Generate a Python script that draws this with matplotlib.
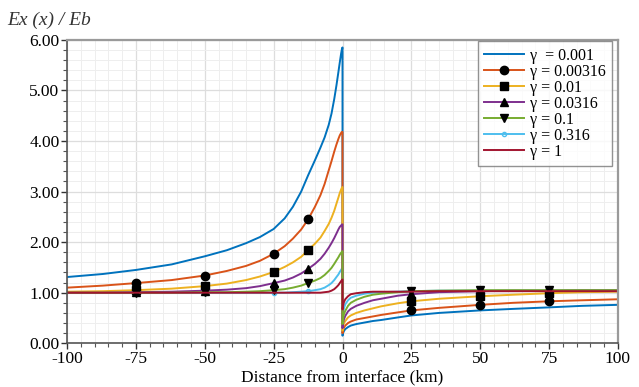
import matplotlib
matplotlib.use("Agg")
import matplotlib.pyplot as plt
from matplotlib.ticker import MultipleLocator, FormatStrFormatter

plt.rcParams['font.family'] = ['Liberation Serif', 'DejaVu Serif']
plt.rcParams['axes.unicode_minus'] = False

# distance from interface (km); 0 appears twice for the jump at the interface
x_left = [-100, -87, -75, -62, -50, -42, -35, -30, -25, -21, -18, -15, -12.5,
          -10, -8, -6.5, -5, -4, -3, -2.2, -1.5, -1, -0.5, -0.2, 0]
x_right = [0, 0.2, 0.5, 1, 2, 3, 5, 8, 11, 14, 20, 25, 35, 50, 62, 75, 87, 100]
x_all = x_left + x_right

labels = ["\u03b3  = 0.001", "\u03b3 = 0.00316", "\u03b3 = 0.01", "\u03b3 = 0.0316",
          "\u03b3 = 0.1", "\u03b3 = 0.316", "\u03b3 = 1"]

# Ex(x)/Eb: left side of interface, then right side
g0001_l = [1.31, 1.37, 1.45, 1.56, 1.72, 1.84, 1.98, 2.10, 2.26, 2.47, 2.70, 3.00, 3.32,
           3.62, 3.87, 4.07, 4.32, 4.54, 4.83, 5.10, 5.36, 5.55, 5.73, 5.82, 5.85]
g0001_r = [0.15, 0.20, 0.24, 0.28, 0.32, 0.35, 0.38, 0.41, 0.44, 0.46, 0.51, 0.55,
           0.60, 0.65, 0.68, 0.71, 0.74, 0.76]
g00316_l = [1.10, 1.14, 1.19, 1.25, 1.34, 1.43, 1.53, 1.63, 1.77, 1.92, 2.07, 2.25, 2.45,
            2.70, 2.93, 3.15, 3.42, 3.60, 3.79, 3.93, 4.04, 4.11, 4.16, 4.18, 4.18]
g00316_r = [0.20, 0.26, 0.31, 0.35, 0.40, 0.43, 0.47, 0.50, 0.53, 0.56, 0.61, 0.65,
            0.70, 0.76, 0.80, 0.83, 0.85, 0.87]
g001_l = [1.02, 1.03, 1.05, 1.08, 1.13, 1.18, 1.25, 1.32, 1.41, 1.51, 1.60, 1.71, 1.84,
          1.97, 2.09, 2.22, 2.36, 2.48, 2.62, 2.76, 2.88, 2.97, 3.04, 3.08, 3.09]
g001_r = [0.25, 0.32, 0.39, 0.44, 0.51, 0.55, 0.60, 0.65, 0.69, 0.73, 0.79, 0.83,
          0.88, 0.93, 0.96, 0.99, 1.01, 1.02]
g0032_l = [1.00, 1.00, 1.01, 1.02, 1.04, 1.06, 1.09, 1.13, 1.19, 1.24, 1.30, 1.38, 1.47,
           1.57, 1.67, 1.77, 1.89, 1.98, 2.08, 2.17, 2.25, 2.30, 2.33, 2.35, 2.35]
g0032_r = [0.30, 0.39, 0.47, 0.54, 0.63, 0.68, 0.74, 0.80, 0.85, 0.88, 0.94, 0.97,
           1.01, 1.03, 1.04, 1.04, 1.05, 1.05]
g01_l = [1.00, 1.00, 1.00, 1.00, 1.01, 1.01, 1.02, 1.03, 1.05, 1.07, 1.10, 1.14, 1.19,
         1.24, 1.29, 1.35, 1.43, 1.49, 1.57, 1.64, 1.70, 1.75, 1.79, 1.81, 1.82]
g01_r = [0.38, 0.48, 0.57, 0.64, 0.74, 0.80, 0.86, 0.92, 0.96, 0.98, 1.01, 1.03,
         1.04, 1.05, 1.05, 1.05, 1.05, 1.05]
g0316_l = [1.00, 1.00, 1.00, 1.00, 1.00, 1.00, 1.00, 1.00, 1.00, 1.00, 1.01, 1.02, 1.03,
           1.05, 1.07, 1.10, 1.15, 1.19, 1.25, 1.31, 1.36, 1.41, 1.45, 1.48, 1.49]
g0316_r = [0.48, 0.59, 0.69, 0.77, 0.85, 0.90, 0.94, 0.98, 1.00, 1.01, 1.02, 1.03,
           1.04, 1.04, 1.04, 1.04, 1.04, 1.04]
g1_l = [1.00, 1.00, 1.00, 1.00, 1.00, 1.00, 1.00, 1.00, 1.00, 1.00, 1.00, 1.00, 1.00,
        1.00, 1.00, 1.01, 1.02, 1.04, 1.07, 1.11, 1.15, 1.19, 1.23, 1.25, 1.26]
g1_r = [0.67, 0.74, 0.81, 0.87, 0.93, 0.97, 0.99, 1.01, 1.02, 1.02, 1.02, 1.02,
        1.03, 1.03, 1.03, 1.03, 1.03, 1.03]

series = [g0001_l + g0001_r, g00316_l + g00316_r, g001_l + g001_r, g0032_l + g0032_r,
          g01_l + g01_r, g0316_l + g0316_r, g1_l + g1_r]
colors = ["#0072BD", "#D95319", "#EDB120", "#7E2F8E", "#77AC30", "#4DBEEE", "#A2142F"]
markers = [None, "o", "s", "^", "v", "o", None]
msizes = [0, 6, 6, 6, 6, 3, 0]
mfaces = ["k", "k", "k", "k", "k", "none", "k"]
zorders = [2, 2, 2, 2, 2, 1.9, 2]
mark_x = [-75, -50, -25, -12.5, 25, 50, 75]
mark_idx = [i for i, xv in enumerate(x_all) if xv in mark_x]

fig = plt.figure(figsize=(6.39, 3.87), dpi=100)
ax = fig.add_axes([0.105, 0.113, 0.862, 0.784])

for ys, c, m, ms, mf, z, lab in zip(series, colors, markers, msizes, mfaces, zorders, labels):
    ax.plot(x_all, ys, color=c, lw=1.4, label=lab, marker=m, markersize=ms,
            markevery=mark_idx, markerfacecolor=mf, zorder=z,
            markeredgecolor=("k" if mf == "k" else c))

ax.set_xlim(-100, 100)
ax.set_ylim(0, 6)
ax.xaxis.set_major_locator(MultipleLocator(25))
ax.xaxis.set_minor_locator(MultipleLocator(5))
ax.yaxis.set_major_locator(MultipleLocator(1))
ax.yaxis.set_minor_locator(MultipleLocator(0.2))
ax.yaxis.set_major_formatter(FormatStrFormatter("%.2f"))
ax.grid(which="major", color="#dddddd", lw=0.9)
ax.grid(which="minor", color="#eeeeee", lw=0.7)
ax.set_axisbelow(True)

ax.tick_params(which="major", direction="out", length=4, width=1, labelsize=12.5,
               colors="#333333", pad=1.5)
ax.tick_params(which="minor", direction="out", length=3, width=0.8, colors="#555555")
ax.tick_params(axis="both", labelcolor="black")
for s in ["left", "bottom"]:
    ax.spines[s].set_color("#555555")
    ax.spines[s].set_linewidth(1.2)
for s in ["top", "right"]:
    ax.spines[s].set_color("#9a9a9a")
    ax.spines[s].set_linewidth(1.6)

fig.text(0.536, 0.004, "Distance from interface (km)", fontsize=12.5,
         ha="center", va="bottom")
fig.text(0.012, 0.935, "Ex (x) / Eb", fontsize=14, style="italic", color="#333333")

leg = ax.legend(loc="upper right", fontsize=11.5, frameon=True, fancybox=False,
                handlelength=2.5, handletextpad=0.4, labelspacing=0.0,
                borderpad=0.4, borderaxespad=0.0, bbox_to_anchor=(0.99, 0.995))
leg.get_frame().set_edgecolor("#777777")
leg.get_frame().set_linewidth(1.0)

fig.savefig("out.png", dpi=100)
